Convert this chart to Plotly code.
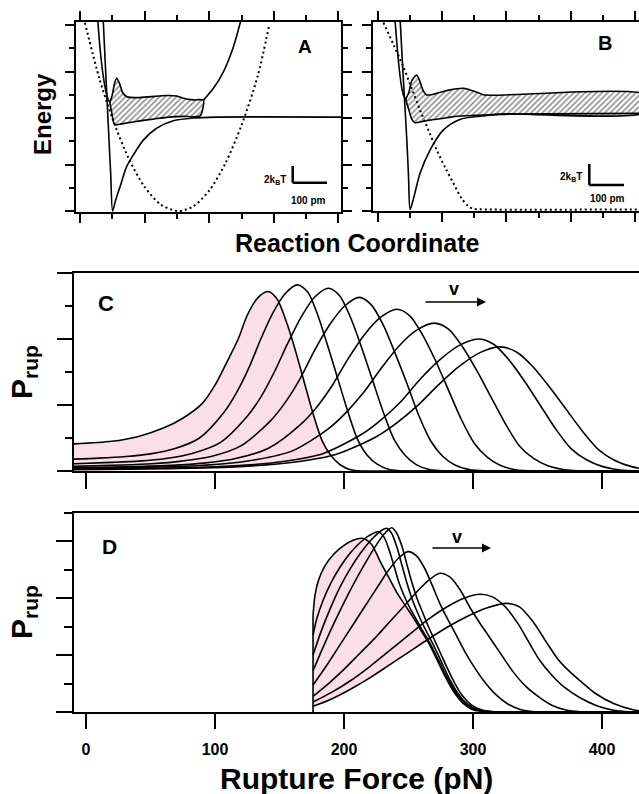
import plotly.graph_objects as go

W, H = 639, 794
FONT = "Liberation Sans, Arial, sans-serif"
PINK = "rgb(250,222,232)"

# ---------------- Panel A (energy landscapes, arbitrary units) ----------------
A_dot_x = [0.15, 0.6, 1.0, 1.5, 2.0, 2.5, 3.04, 3.5, 4.0, 4.5, 5.0, 5.5, 5.85]
A_dot_y = [8.1, 5.7, 4.0, 2.28, 1.04, 0.28, 0.0, 0.2, 0.88, 2.05, 3.69, 5.8, 7.95]
A_morse_x = [0.72, 0.78, 0.84, 0.9, 0.95, 1.01, 1.1, 1.24, 1.44, 1.65, 1.96, 2.37, 2.89, 3.51, 4.2, 8.2]
A_morse_y = [8.2, 6.4, 4.7, 3.0, 1.6, 0.0, 0.45, 1.05, 1.9, 2.41, 3.05, 3.56, 3.88, 4.0, 4.04, 4.04]
A_wall_x = [0.55, 0.62, 0.7, 0.78, 0.86, 0.93]
A_wall_y = [8.2, 7.0, 6.0, 5.3, 4.85, 4.65]
A_top_x = [0.93, 1.0, 1.07, 1.14, 1.22, 1.32, 1.45, 1.8, 2.2, 2.68, 3.0, 3.2, 3.5, 3.82]
A_top_y = [4.65, 5.0, 5.5, 5.71, 5.5, 5.1, 4.92, 4.88, 4.92, 4.97, 4.95, 4.85, 4.78, 4.77]
A_bot_x = [0.93, 0.98, 1.03, 1.08, 1.24, 1.5, 1.86, 2.3, 2.68, 3.2, 3.72]
A_bot_y = [4.65, 4.25, 3.85, 3.7, 3.74, 3.8, 3.88, 3.96, 4.03, 4.07, 4.09]
A_rise_x = [3.82, 4.13, 4.44, 4.75, 4.97]
A_rise_y = [4.77, 5.28, 5.99, 7.07, 8.15]

# ---------------- Panel B ----------------
B_dot_x = [0.17, 0.5, 0.79, 1.05, 1.31, 1.57, 1.83, 2.1, 2.35, 2.6, 2.8, 2.95, 3.2, 8.3]
B_dot_y = [8.1, 7.1, 6.2, 5.27, 4.34, 3.48, 2.62, 1.85, 1.19, 0.55, 0.22, 0.1, 0.07, 0.07]
B_morse_x = [0.69, 0.76, 0.83, 0.9, 0.95, 1.0, 1.1, 1.31, 1.62, 2.03, 2.55, 3.18, 3.8, 8.3]
B_morse_y = [8.2, 6.4, 4.7, 3.0, 1.5, 0.07, 0.5, 1.62, 2.62, 3.48, 3.94, 4.08, 4.15, 4.2]
B_wall_x = [0.53, 0.6, 0.67, 0.74, 0.8, 0.87]
B_wall_y = [8.2, 7.0, 6.0, 5.3, 4.95, 4.8]
B_top_x = [0.87, 0.96, 1.05, 1.2, 1.3, 1.4, 1.52, 1.8, 2.2, 2.66, 3.0, 3.28, 3.7, 4.5, 8.3]
B_top_y = [4.8, 5.1, 5.6, 5.85, 5.6, 5.2, 4.99, 5.05, 5.2, 5.28, 5.15, 5.0, 4.98, 5.02, 5.02]
B_bot_x = [0.87, 0.95, 1.05, 1.15, 1.35, 1.62, 2.0, 2.35, 2.8, 3.28, 4.0, 8.3]
B_bot_y = [4.8, 4.4, 3.95, 3.8, 3.84, 3.91, 3.98, 4.06, 4.1, 4.13, 4.18, 4.23]

# ---------------- Panel C (rupture force distributions, pN) ----------------
C_x = [
    [-10, 20, 40, 60, 75, 90, 100, 110, 118, 125, 133, 141, 148, 155, 162, 169, 176, 183, 190, 197, 205, 215, 240, 440],
    [-10, 10, 31, 50, 69, 88, 107, 116.5, 126, 135.5, 145, 154.5, 164, 172, 179.5, 187, 195, 203, 210.5, 218, 226, 235, 248, 270, 440],
    [-10, 20, 41, 62, 83, 104, 125, 135.5, 146, 156.5, 167, 177.5, 188, 196.5, 205, 213.5, 222, 230.5, 239, 247.5, 256, 266, 280, 300, 440],
    [-10, 28, 51, 74, 97, 120, 143, 154.5, 166, 177.5, 189, 200.5, 212, 221, 230.5, 239.5, 249, 258, 267.5, 276.5, 286, 297, 312, 330, 440],
    [-10, 41, 66, 91, 116, 141, 166, 178.5, 191, 203.5, 216, 228.5, 241, 251, 261, 271, 281, 291, 301, 311, 321, 333, 349, 370, 440],
    [-10, 50, 77.5, 105, 132.5, 160, 187.5, 201, 215, 229, 242.5, 256, 270, 281, 292, 303, 314, 325, 336, 347, 358, 371, 389, 410, 440],
    [-10, 34, 64, 94, 124, 154, 184, 214, 229, 244, 259, 274, 289, 304, 316, 328, 340, 352, 364, 376, 388, 400, 414, 434, 450],
    [-10, 33, 65, 97, 129, 161, 193, 225, 241, 257, 273, 289, 305, 321, 334, 346.5, 359, 372, 385, 397.5, 410, 423, 438, 459],
]
C_y = [
    [0.41, 0.45, 0.52, 0.65, 0.80, 1.02, 1.30, 1.68, 2.00, 2.36, 2.62, 2.72, 2.61, 2.28, 1.85, 1.36, 0.87, 0.46, 0.23, 0.095, 0.02, 0.0, 0.0, 0.0],
    [0.18, 0.195, 0.22, 0.26, 0.34, 0.50, 0.89, 1.18, 1.55, 2.00, 2.40, 2.69, 2.82, 2.71, 2.37, 1.92, 1.41, 0.90, 0.48, 0.24, 0.10, 0.023, 0.0, 0.0, 0.0],
    [0.11, 0.13, 0.15, 0.19, 0.27, 0.43, 0.83, 1.12, 1.50, 1.94, 2.34, 2.64, 2.77, 2.66, 2.33, 1.88, 1.385, 0.89, 0.47, 0.235, 0.097, 0.022, 0.0, 0.0, 0.0],
    [0.07, 0.09, 0.11, 0.15, 0.22, 0.38, 0.76, 1.04, 1.40, 1.84, 2.22, 2.50, 2.63, 2.52, 2.21, 1.79, 1.315, 0.84, 0.447, 0.224, 0.092, 0.021, 0.0, 0.0, 0.0],
    [0.05, 0.068, 0.085, 0.12, 0.19, 0.34, 0.70, 0.96, 1.30, 1.71, 2.07, 2.33, 2.45, 2.35, 2.06, 1.67, 1.225, 0.78, 0.42, 0.21, 0.086, 0.02, 0.0, 0.0, 0.0],
    [0.04, 0.058, 0.073, 0.106, 0.173, 0.305, 0.634, 0.874, 1.185, 1.56, 1.89, 2.13, 2.24, 2.15, 1.88, 1.52, 1.12, 0.72, 0.38, 0.19, 0.078, 0.018, 0.0, 0.0, 0.0],
    [0.03, 0.038, 0.046, 0.06, 0.089, 0.148, 0.266, 0.56, 0.78, 1.05, 1.39, 1.68, 1.90, 2.00, 1.92, 1.68, 1.36, 1.0, 0.64, 0.34, 0.17, 0.07, 0.016, 0.0, 0.0],
    [0.02, 0.028, 0.036, 0.049, 0.077, 0.132, 0.245, 0.52, 0.73, 0.99, 1.30, 1.58, 1.79, 1.88, 1.80, 1.58, 1.28, 0.94, 0.60, 0.32, 0.16, 0.066, 0.015, 0.0],
]

# ---------------- Panel D ----------------
D_x = [
    [176, 177.5, 180, 185, 192, 200, 207, 214, 221, 228, 234.5, 241, 247.5, 254, 260, 266, 272, 279, 285, 292, 299, 307, 318, 340, 440],
    [176, 179, 184, 190, 197, 205, 213, 220, 226.6, 231, 235, 239, 243, 248, 253, 258, 263, 268, 273, 279, 285, 292, 300, 309, 320, 340, 440],
    [176, 182, 189, 197, 205, 213, 221, 228, 233.1, 237, 241, 245, 249, 253, 257, 261, 266, 271, 276, 282, 288, 295, 303, 312, 324, 340, 440],
    [176, 184, 192, 200, 208, 216, 224, 231, 237, 241, 245, 249, 253, 257, 261, 265, 270, 275, 280, 286, 292, 299, 307, 316, 328, 345, 440],
    [176, 186, 196, 206, 216, 226, 234, 242, 249.6, 256, 262, 268, 274, 280, 287, 294, 300, 308, 318, 327, 336, 346, 358, 380, 440],
    [176, 188, 200, 212, 224, 236, 248, 258, 266, 274.4, 282, 290, 298, 305, 311, 320, 331, 341, 352, 362, 372, 383, 395, 420, 440],
    [176, 190, 205, 220, 235, 250, 265, 280, 293, 305.4, 315, 325, 335, 344, 352, 361, 370, 383, 396, 408, 420, 432, 445],
    [176, 190, 205, 220, 235, 250, 265, 280, 295, 310, 326, 336, 347, 357, 366, 375, 383, 395, 409, 424, 435, 445],
]
D_y = [
    [3.4, 4.1, 4.6, 5.12, 5.55, 5.86, 6.04, 6.11, 5.92, 5.3, 4.75, 4.2, 3.75, 3.3, 2.85, 2.4, 1.85, 1.2, 0.72, 0.32, 0.1, 0.02, 0.0, 0.0, 0.0],
    [2.7, 3.3, 3.95, 4.55, 5.1, 5.6, 5.98, 6.22, 6.34, 6.15, 5.7, 5.1, 4.5, 3.95, 3.5, 3.1, 2.7, 2.3, 1.85, 1.3, 0.8, 0.38, 0.12, 0.03, 0.0, 0.0, 0.0],
    [2.0, 2.8, 3.6, 4.4, 5.05, 5.6, 6.05, 6.35, 6.46, 6.28, 5.8, 5.15, 4.5, 3.95, 3.5, 3.1, 2.65, 2.2, 1.72, 1.15, 0.68, 0.3, 0.1, 0.02, 0.0, 0.0, 0.0],
    [1.45, 2.3, 3.1, 3.85, 4.55, 5.2, 5.8, 6.25, 6.48, 6.28, 5.82, 5.15, 4.5, 3.95, 3.5, 3.05, 2.55, 2.05, 1.55, 1.0, 0.56, 0.24, 0.07, 0.01, 0.0, 0.0, 0.0],
    [0.95, 1.6, 2.3, 3.0, 3.7, 4.4, 4.95, 5.4, 5.64, 5.5, 5.1, 4.5, 3.85, 3.3, 2.7, 2.1, 1.65, 1.12, 0.6, 0.28, 0.1, 0.02, 0.0, 0.0, 0.0],
    [0.55, 1.0, 1.5, 2.05, 2.6, 3.2, 3.8, 4.3, 4.65, 4.88, 4.75, 4.3, 3.65, 3.15, 2.75, 2.15, 1.42, 0.9, 0.5, 0.22, 0.07, 0.01, 0.0, 0.0, 0.0],
    [0.35, 0.68, 1.1, 1.6, 2.15, 2.7, 3.25, 3.7, 4.0, 4.14, 4.05, 3.7, 3.1, 2.4, 1.8, 1.3, 0.9, 0.5, 0.22, 0.07, 0.01, 0.0, 0.0],
    [0.2, 0.45, 0.8, 1.2, 1.65, 2.1, 2.55, 2.98, 3.35, 3.65, 3.82, 3.7, 3.15, 2.45, 1.85, 1.42, 1.1, 0.65, 0.3, 0.08, 0.01, 0.0],
]
force_ticks = [0, 100, 200, 300, 400]


def py(v):
    return 1 - v / H


def pxx(v):
    return v / W


fig = go.Figure()
LW = 1.6


def line(x, y, ax, dash=None, width=LW):
    fig.add_trace(go.Scatter(x=x, y=y, mode="lines", xaxis="x" + ax, yaxis="y" + ax,
                             line=dict(color="black", width=width, shape="spline", smoothing=0.8,
                                       dash=dash), hoverinfo="skip", showlegend=False))


def band(tx, ty, bx, by, ax):
    fig.add_trace(go.Scatter(x=tx + bx[::-1], y=ty + by[::-1], mode="lines", fill="toself",
                             xaxis="x" + ax, yaxis="y" + ax, fillcolor="white",
                             fillpattern=dict(shape="/", size=4, solidity=0.4, fgcolor="#222", bgcolor="white"),
                             line=dict(color="black", width=1.6, shape="spline", smoothing=0.6),
                             hoverinfo="skip", showlegend=False))


# A
band(A_top_x, A_top_y, A_bot_x, A_bot_y, "")
line(A_dot_x, A_dot_y, "", dash="2px,3px", width=2)
line(A_morse_x, A_morse_y, "")
line(A_wall_x, A_wall_y, "")
line(A_rise_x, A_rise_y, "")
# B
band(B_top_x, B_top_y, B_bot_x, B_bot_y, "2")
line(B_dot_x, B_dot_y, "2", dash="2px,3px", width=2)
line(B_morse_x, B_morse_y, "2")
line(B_wall_x, B_wall_y, "2")


def pdf_panel(xs, ys, ax, vertical=False):
    fig.add_trace(go.Scatter(x=xs[0], y=ys[0], mode="lines", fill="tozeroy", fillcolor=PINK,
                             line=dict(width=0, shape="spline", smoothing=0.8), xaxis="x" + ax, yaxis="y" + ax,
                             hoverinfo="skip", showlegend=False))
    fig.add_trace(go.Scatter(x=xs[-1], y=ys[-1], mode="lines", fill="tozeroy", fillcolor="white",
                             line=dict(width=0, shape="spline", smoothing=0.8), xaxis="x" + ax, yaxis="y" + ax,
                             hoverinfo="skip", showlegend=False))
    if vertical:
        fig.add_trace(go.Scatter(x=[xs[0][0], xs[0][0]], y=[0, ys[0][0]], mode="lines",
                                 line=dict(color="black", width=LW), xaxis="x" + ax, yaxis="y" + ax,
                                 hoverinfo="skip", showlegend=False))
    for x, y in zip(xs, ys):
        line(x, y, ax)


pdf_panel(C_x, C_y, "3")
pdf_panel(D_x, D_y, "4", vertical=True)

axA = dict(showline=True, linecolor="black", linewidth=1.5, ticks="outside", tickcolor="black",
           tickwidth=1.5, ticklen=9, showticklabels=False, showgrid=False, zeroline=False,
           tick0=0, dtick=2,
           minor=dict(ticks="outside", ticklen=5, tickwidth=1.5, tickcolor="black", dtick=1, tick0=0))

fig.update_layout(
    width=W, height=H, margin=dict(l=0, r=0, t=0, b=0),
    paper_bgcolor="white", plot_bgcolor="white", showlegend=False,
    font=dict(family=FONT, color="black"),
    xaxis=dict(axA, domain=[pxx(76), pxx(341)], range=[-0.124, 8.08], mirror="ticks", anchor="y"),
    yaxis=dict(axA, domain=[py(212), py(22)], range=[-0.04, 8.13], mirror="ticks", anchor="x"),
    xaxis2=dict(axA, domain=[pxx(373), 1.0], range=[-0.156, 8.13], mirror="ticks", anchor="y2"),
    yaxis2=dict(axA, domain=[py(211), py(22)], range=[0, 8.13], mirror=False, anchor="x2"),
    xaxis3=dict(domain=[pxx(74), 1.0], range=[-9.3, 428.7], anchor="y3", showline=True, mirror=True,
                linecolor="black", linewidth=2, ticks="outside", tickvals=force_ticks, ticklen=16,
                tickwidth=2, tickcolor="black", showticklabels=False, showgrid=False, zeroline=False),
    yaxis3=dict(domain=[py(471), py(273)], range=[0, 3], anchor="x3", showline=True, mirror=False,
                linecolor="black", linewidth=2, ticks="outside", tick0=0, dtick=1, ticklen=15,
                tickwidth=2, tickcolor="black", showticklabels=False, showgrid=False, zeroline=False,
                minor=dict(ticks="outside", ticklen=7, tickwidth=2, tickcolor="black", dtick=0.5, tick0=0)),
    xaxis4=dict(domain=[pxx(74), 1.0], range=[-9.3, 428.7], anchor="y4", showline=True, mirror=True,
                linecolor="black", linewidth=2, ticks="outside", tickvals=force_ticks,
                ticktext=[str(t) for t in force_ticks], ticklen=15, tickwidth=2, tickcolor="black",
                tickfont=dict(family=FONT, size=16, weight="bold"), ticklabelstandoff=7,
                showgrid=False, zeroline=False),
    yaxis4=dict(domain=[py(712), py(513)], range=[0, 7], anchor="x4", showline=True, mirror=False,
                linecolor="black", linewidth=2, ticks="outside", tick0=0, dtick=2, ticklen=16,
                tickwidth=2, tickcolor="black", showticklabels=False, showgrid=False, zeroline=False,
                minor=dict(ticks="outside", ticklen=8, tickwidth=2, tickcolor="black", dtick=1, tick0=0)),
)


def ann(text, x, y, size, angle=0, bold=True):
    fig.add_annotation(text=text, x=pxx(x), y=py(y), xref="paper", yref="paper", showarrow=False,
                       textangle=angle, xanchor="center", yanchor="middle",
                       font=dict(family=FONT, size=size, color="black", weight="bold" if bold else "normal"))


ann("Energy", 42, 114, 24, angle=-90)
ann("Reaction Coordinate", 357, 243, 25)
ann("Rupture Force (pN)", 356, 778, 30)
ann("P<sub>rup</sub>", 23, 372, 30, angle=-90)
ann("P<sub>rup</sub>", 23, 612, 30, angle=-90)
ann("A", 305, 47, 19)
ann("B", 605, 43, 20)
ann("C", 106, 303, 22)
ann("D", 110, 546, 21)
ann("2k<sub>B</sub>T", 275, 180, 10)
ann("100 pm", 308, 200, 10)
ann("2k<sub>B</sub>T", 571, 177, 10)
ann("100 pm", 607, 199, 10)
ann("v", 454, 289, 18)
ann("v", 457, 537, 18)

for (x0, x1, yy) in [(424, 486, 302), (431, 491, 548)]:
    fig.add_annotation(x=pxx(x1), y=py(yy), xref="paper", yref="paper", ax=x0 - x1, ay=0,
                       axref="pixel", ayref="pixel", text="", showarrow=True, arrowhead=2,
                       arrowsize=1.2, arrowwidth=1.5, arrowcolor="black")

# scale bars
for (xv, ytop, ybot, xh) in [(292.7, 166, 182.7, 327), (589.3, 164, 185, 624)]:
    fig.add_shape(type="line", xref="paper", yref="paper", x0=pxx(xv), x1=pxx(xv), y0=py(ytop), y1=py(ybot),
                  line=dict(color="black", width=2.5))
    fig.add_shape(type="line", xref="paper", yref="paper", x0=pxx(xv), x1=pxx(xh), y0=py(ybot), y1=py(ybot),
                  line=dict(color="black", width=2.5))

fig.write_html("out.html", config={"displayModeBar": False},
               post_script="document.body.style.margin='0px';")
